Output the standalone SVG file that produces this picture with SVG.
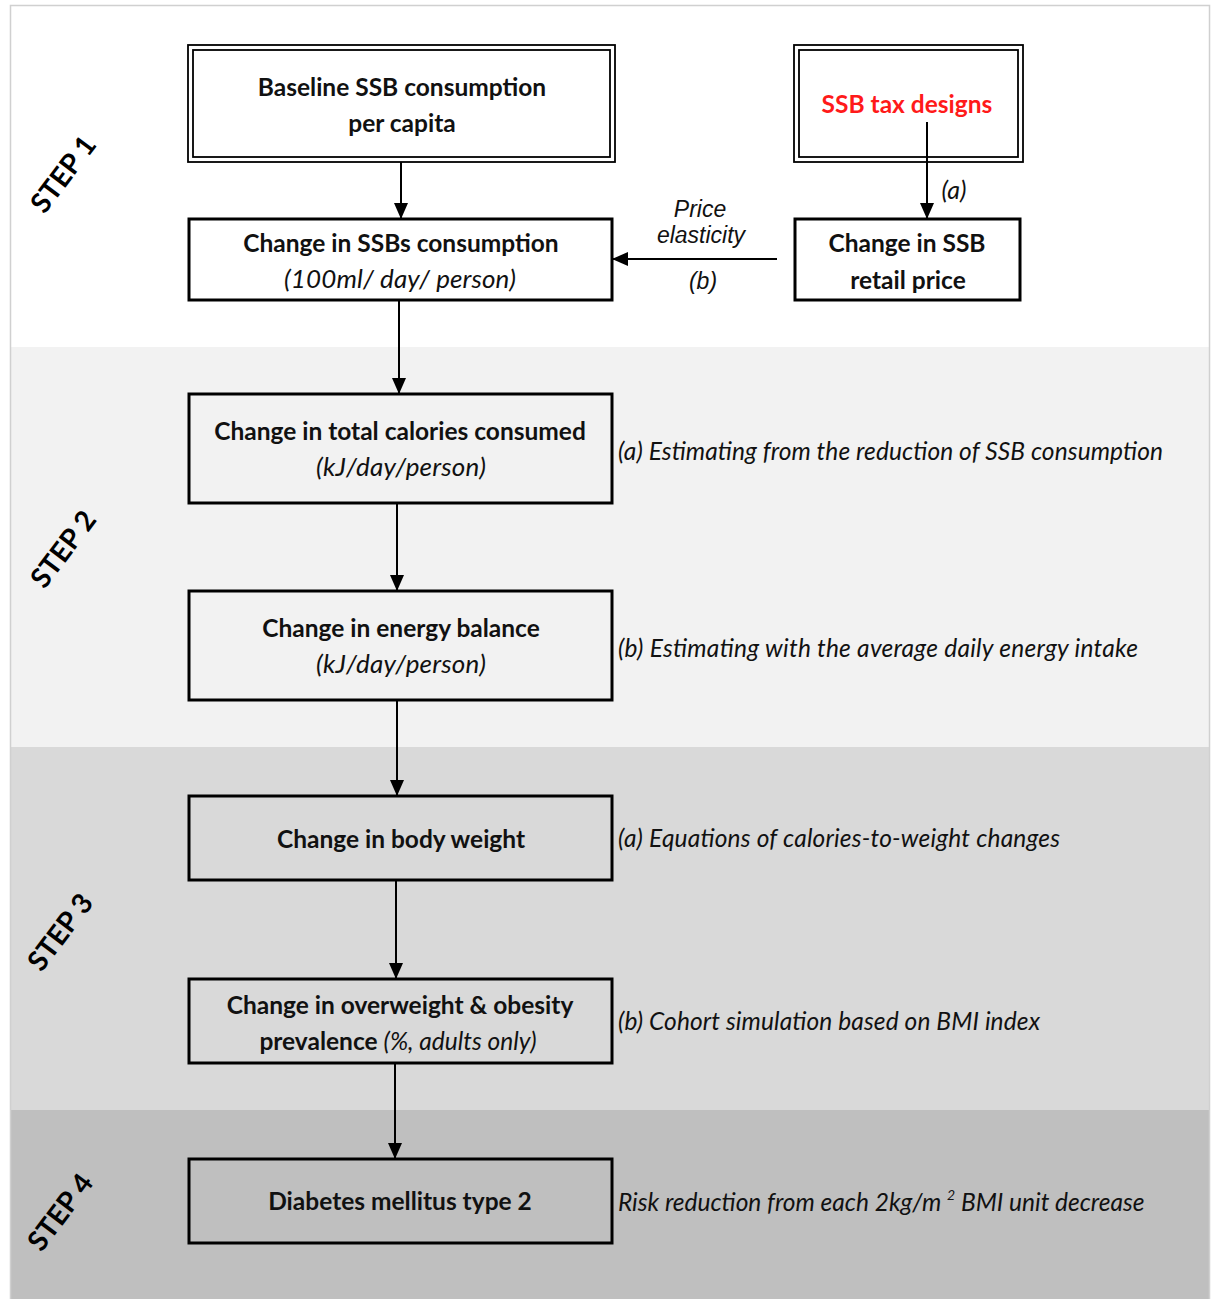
<svg xmlns="http://www.w3.org/2000/svg" width="1215" height="1299" viewBox="0 0 1215 1299">
<style>
.box{fill:none;stroke:#000;stroke-width:3}
.dbl{fill:none;stroke:#000;stroke-width:1.8}
.t{font-family:Lato,"Open Sans",sans-serif;font-weight:bold;font-size:24.5px;fill:#111;text-anchor:middle}
.ti{font-family:Lato,"Open Sans",sans-serif;font-style:italic;font-size:26px;fill:#111;text-anchor:middle}
.ann{font-family:Lato,"Open Sans",sans-serif;font-style:italic;font-size:24.5px;fill:#111}
.lab{font-family:"Liberation Sans",Arial,sans-serif;font-style:italic;font-size:23px;fill:#111;text-anchor:middle}
.step{font-family:Lato,"Open Sans",sans-serif;font-weight:bold;font-size:28px;fill:#000;text-anchor:middle}
.con{stroke:#000;stroke-width:2;fill:none;marker-end:url(#ah)}
</style>
<defs>
<marker id="ah" markerWidth="16" markerHeight="16" viewBox="0 0 16 16" refX="15" refY="8" orient="auto" markerUnits="userSpaceOnUse">
<path d="M0,1 L16,8 L0,15 Z" fill="#000"/>
</marker>
</defs>
<rect x="0" y="0" width="1215" height="1299" fill="#fff"/>
<g id="bands">
<rect x="11" y="6" width="1198" height="341" fill="#ffffff"/>
<rect x="11" y="347" width="1198" height="400" fill="#f2f2f2"/>
<rect x="11" y="747" width="1198" height="363" fill="#d9d9d9"/>
<rect x="11" y="1110" width="1198" height="189" fill="#bfbfbf"/>
<rect x="10.5" y="5.5" width="1199" height="1300" fill="none" stroke="#d0d0d0" stroke-width="1.5"/>
</g>
<g id="steps">
<text class="step" transform="translate(71,180) rotate(-53)">STEP 1</text>
<text class="step" transform="translate(71,555) rotate(-53)">STEP 2</text>
<text class="step" transform="translate(68,938) rotate(-53)">STEP 3</text>
<text class="step" transform="translate(68,1218) rotate(-53)">STEP 4</text>
</g>
<g id="connectors">
<line class="con" x1="401" y1="162" x2="401" y2="218"/>
<line class="con" x1="927" y1="122" x2="927" y2="218"/>
<line class="con" x1="777" y1="259" x2="613" y2="259"/>
<line class="con" x1="399" y1="300" x2="399" y2="393"/>
<line class="con" x1="397" y1="503" x2="397" y2="590"/>
<line class="con" x1="397" y1="700" x2="397" y2="795"/>
<line class="con" x1="396" y1="880" x2="396" y2="978"/>
<line class="con" x1="395" y1="1063" x2="395" y2="1158"/>
<text class="ti" x="954" y="199" style="font-size:25px">(a)</text>
<text class="lab" x="700" y="217">Price</text>
<text class="lab" x="701" y="243">elasticity</text>
<text class="lab" x="703" y="289">(b)</text>
</g>
<g id="n-baseline">
<rect class="dbl" x="188" y="45" width="427" height="117"/>
<rect class="dbl" x="193" y="50" width="417" height="107"/>
<text class="t" x="402" y="96">Baseline SSB consumption</text>
<text class="t" x="402" y="132">per capita</text>
</g>
<g id="n-tax">
<rect class="dbl" x="794" y="45" width="229" height="117"/>
<rect class="dbl" x="799" y="50" width="219" height="107"/>
<text class="t" x="907" y="113" style="fill:#ff1a1a">SSB tax designs</text>
</g>
<g id="n-ssbcons">
<rect class="box" x="189" y="219" width="423" height="81"/>
<text class="t" x="401" y="252">Change in SSBs consumption</text>
<text class="ti" x="400" y="288" textLength="232" lengthAdjust="spacing">(100ml/ day/ person)</text>
</g>
<g id="n-price">
<rect class="box" x="795" y="219" width="225" height="81"/>
<text class="t" x="907" y="252">Change in SSB</text>
<text class="t" x="908" y="289">retail price</text>
</g>
<g id="n-calories">
<rect class="box" x="189" y="394" width="423" height="109"/>
<text class="t" x="400" y="440">Change in total calories consumed</text>
<text class="ti" x="401" y="476" textLength="170" lengthAdjust="spacing">(kJ/day/person)</text>
</g>
<g id="n-energy">
<rect class="box" x="189" y="591" width="423" height="109"/>
<text class="t" x="401" y="637">Change in energy balance</text>
<text class="ti" x="401" y="673" textLength="170" lengthAdjust="spacing">(kJ/day/person)</text>
</g>
<g id="n-weight">
<rect class="box" x="189" y="796" width="423" height="84"/>
<text class="t" x="401" y="848">Change in body weight</text>
</g>
<g id="n-obesity">
<rect class="box" x="189" y="979" width="423" height="84"/>
<text class="t" x="400" y="1014">Change in overweight &amp; obesity</text>
<text class="t" x="398" y="1050">prevalence <tspan style="font-weight:normal;font-style:italic">(%, adults only)</tspan></text>
</g>
<g id="n-diabetes">
<rect class="box" x="189" y="1159" width="423" height="84"/>
<text class="t" x="400" y="1210">Diabetes mellitus type 2</text>
</g>
<g id="annotations">
<text class="ann" x="618" y="460" textLength="545" lengthAdjust="spacing">(a) Estimating from the reduction of SSB consumption</text>
<text class="ann" x="618" y="657" textLength="520" lengthAdjust="spacing">(b) Estimating with the average daily energy intake</text>
<text class="ann" x="618" y="847" textLength="442" lengthAdjust="spacing">(a) Equations of calories-to-weight changes</text>
<text class="ann" x="618" y="1030" textLength="422" lengthAdjust="spacing">(b) Cohort simulation based on BMI index</text>
<text class="ann" x="618" y="1211">Risk reduction from each 2kg/m <tspan dy="-11" font-size="14">2</tspan><tspan dy="11">  BMI unit decrease</tspan></text>
</g>
</svg>
